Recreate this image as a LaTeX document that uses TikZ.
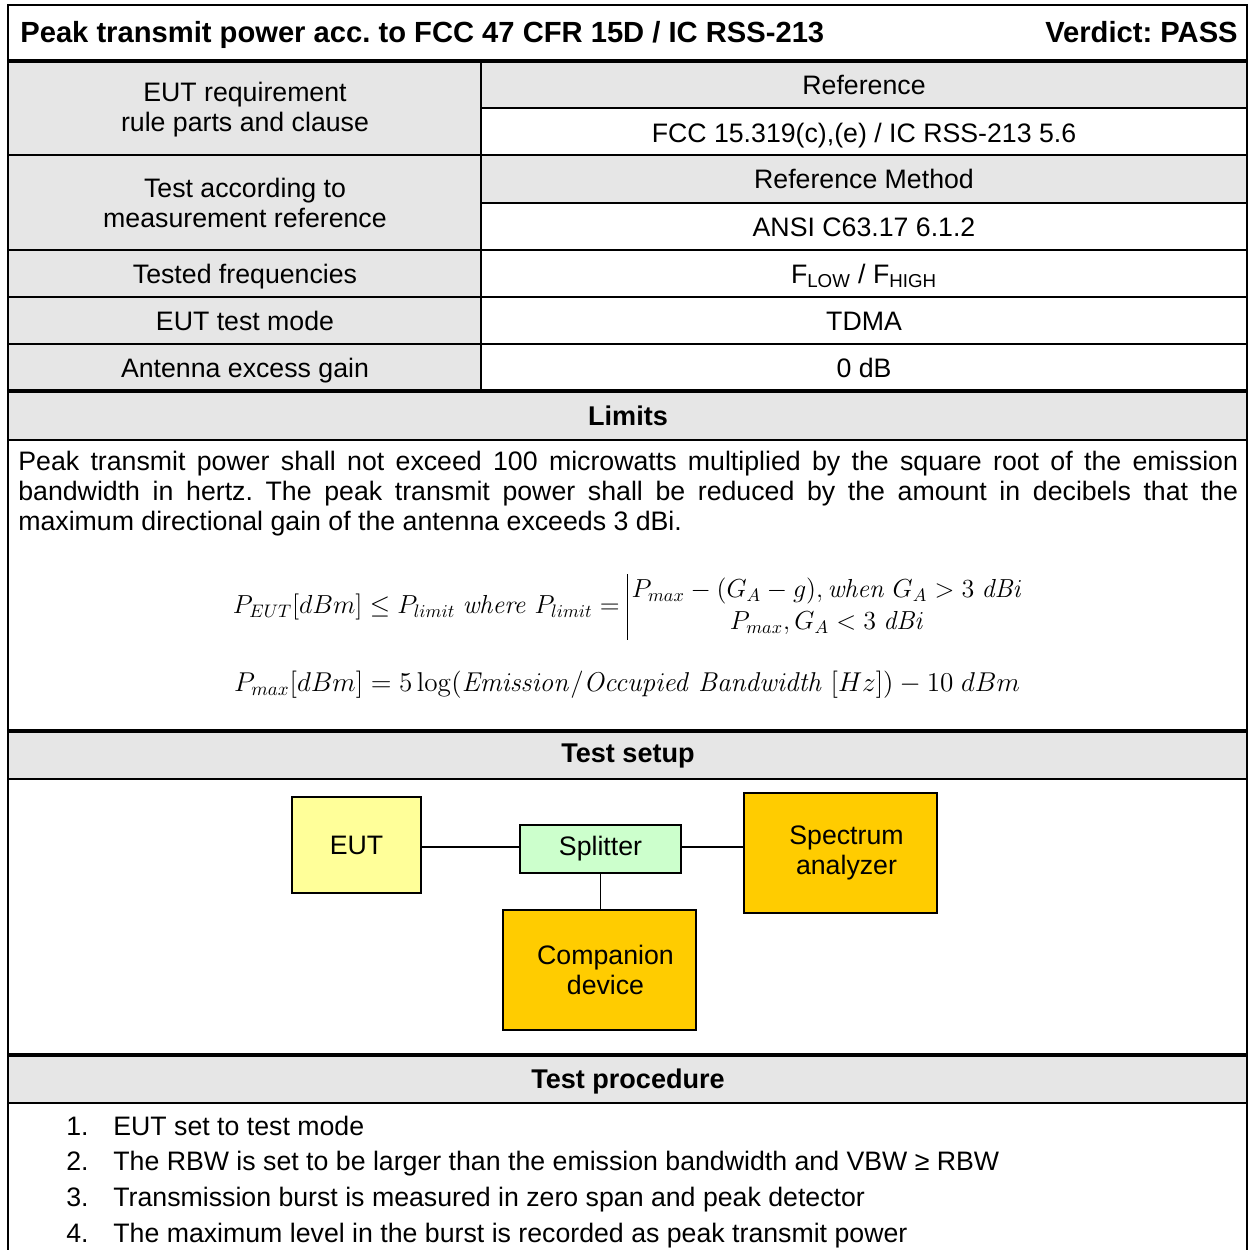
\documentclass[tikz,border=0pt]{standalone}
\usepackage[no-math]{fontspec}
\setmainfont{Liberation Sans}
\usepackage{graphicx}
\usepackage{tikz}
\usetikzlibrary{positioning}
\definecolor{HeadGray}{RGB}{230,230,230}
\definecolor{EutYellow}{RGB}{255,255,153}
\definecolor{SplitGreen}{RGB}{204,255,204}
\definecolor{DevOrange}{RGB}{255,204,0}
\frenchspacing

\begin{document}
\begin{tikzpicture}[
    x=0.02cm, y=-0.02cm,
    cell/.style={font=\fontsize{15.2}{17}\selectfont, align=center, inner sep=0pt},
    head/.style={font=\fontsize{15.4}{17}\selectfont\bfseries, inner sep=0pt},
    title/.style={font=\fontsize{16.6}{18}\selectfont\bfseries, inner sep=0pt},
    formula/.style={font=\fontsize{14.4}{18}\selectfont, inner sep=0pt},
    rule/.style={line width=1.1pt},
    heavy/.style={line width=2.3pt},
    device/.style={rectangle, draw, line width=0.9pt, align=center, inner sep=0pt,
        font=\fontsize{15.2}{17}\selectfont},
    wire/.style={line width=0.8pt},
]
\useasboundingbox (0,0) rectangle (1249,1250);

% shaded cells
\fill[HeadGray] (8,61) rectangle (481,391);
\fill[HeadGray] (481,61) rectangle (1247,108);
\fill[HeadGray] (481,155) rectangle (1247,203);
\fill[HeadGray] (8,391) rectangle (1247,440);
\fill[HeadGray] (8,731) rectangle (1247,779);
\fill[HeadGray] (8,1055) rectangle (1247,1103);

% frame and rules
\draw[rule] (8,1250) -- (8,5) -- (1247,5) -- (1247,1250);
\foreach \y in {61,391,731,1055}
    \draw[heavy] (8,\y) -- (1247,\y);
\foreach \y in {155,250,297,344}
    \draw[rule] (8,\y) -- (1247,\y);
\foreach \y in {108,203}
    \draw[rule] (481,\y) -- (1247,\y);
\foreach \y in {440,779,1103}
    \draw[rule] (8,\y) -- (1247,\y);
\draw[rule] (481,61) -- (481,391);

% title row
\node[title, anchor=base west] (ttl) at (20,43) {Peak transmit power acc. to FCC 47 CFR 15D / IC RSS-213};
\node[title, anchor=base east] (verdict) at (1238,43) {Verdict: PASS};

% parameter rows
\node[cell] (reqL) at (245,110) {EUT requirement\\rule parts and clause};
\node[cell] (mthL) at (245,203) {Test according to\\measurement reference};
\node[cell, anchor=base] (frqL) at (245,283) {Tested frequencies};
\node[cell, anchor=base] (modL) at (245,330) {EUT test mode};
\node[cell, anchor=base] (antL) at (245,377) {Antenna excess gain};

\node[cell, anchor=base] (refR) at (864,95) {Reference};
\node[cell, anchor=base] (fccR) at (864,143) {FCC 15.319(c),(e) / IC RSS-213 5.6};
\node[cell, anchor=base] (rmR) at (864,189) {Reference Method};
\node[cell, anchor=base] (ansiR) at (864,236) {ANSI C63.17 6.1.2};
\node[cell, anchor=base] (frqR) at (864,283) {F\textsubscript{LOW} / F\textsubscript{HIGH}};
\node[cell, anchor=base] (modR) at (864,330) {TDMA};
\node[cell, anchor=base] (antR) at (864,377) {0 dB};

% limits
\node[head] (limits) at (628,416) {Limits};
\node[cell, anchor=north west, text width=24.4cm, align=justify] (limtxt) at (18,451)
    {Peak transmit power shall not exceed 100 microwatts multiplied by the square root of the emission\linebreak
     bandwidth in hertz. The peak transmit power shall be reduced by the amount in decibels that the\linebreak
     maximum directional gain of the antenna exceeds 3 dBi.};
\node[formula] (eqlimit) at (628,607)
    {\scalebox{1.03}{$P_{EUT}[dBm] \le P_{limit}\ \mathit{where}\ P_{limit} = \begin{array}{|@{\,}c@{}}
        P_{max}-(G_A-g),\mathit{when}\ G_A>3\ \mathit{dBi}\\
        P_{max},G_A<3\ \mathit{dBi}\end{array}$}};
\node[formula] (eqpmax) at (627,685)
    {\scalebox{1.076}{$P_{max}[dBm] = 5\log(\mathit{Emission}/\mathit{Occupied\ Bandwidth}\ [Hz]) - 10\ dBm$}};

% test setup
\node[head] (setup) at (628,756) {Test setup};
\node[device, fill=EutYellow, minimum width=2.58cm, minimum height=1.92cm] (eut) at (356.5,845) {EUT};
\node[device, fill=SplitGreen, minimum width=3.22cm, minimum height=0.96cm] (split) at (600.5,849) {Splitter};
\node[device, fill=DevOrange, minimum width=3.86cm, minimum height=2.4cm] (sa) at (840.5,853) {\hspace*{0.24cm}Spectrum\\\hspace*{0.24cm}analyzer};
\node[device, fill=DevOrange, minimum width=3.86cm, minimum height=2.4cm] (comp) at (599.5,970) {\hspace*{0.24cm}Companion\\\hspace*{0.24cm}device};
\draw[wire] (eut.east |- 0,847) -- (split.west |- 0,847);
\draw[wire] (split.east |- 0,847) -- (sa.west |- 0,847);
\draw[wire] (split.south) -- (comp.north -| split.south);

% test procedure
\node[head] (proc) at (628,1081) {Test procedure};
\foreach \n/\y/\t in {1/1135/EUT set to test mode,
    2/1170/The RBW is set to be larger than the emission bandwidth and VBW ≥ RBW,
    3/1206/Transmission burst is measured in zero span and peak detector,
    4/1242/The maximum level in the burst is recorded as peak transmit power} {
    \node[cell, anchor=base west] (num\n) at (66,\y) {\n.};
    \node[cell, anchor=base west] (step\n) at (113,\y) {\t};
}
\end{tikzpicture}
\end{document}
